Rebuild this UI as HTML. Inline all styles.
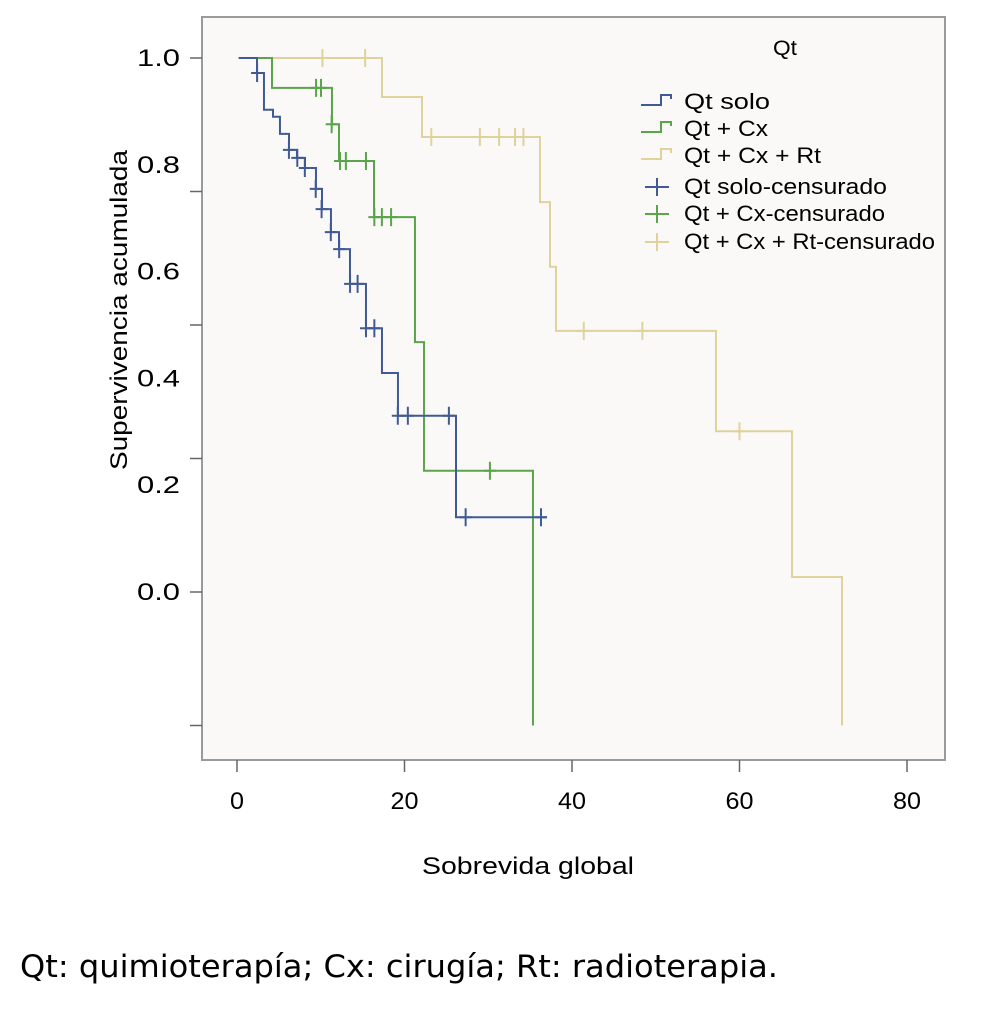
<!DOCTYPE html>
<html><head><meta charset="utf-8"><style>
body{margin:0;background:#fff;width:1000px;height:1004px;overflow:hidden}
text{font-family:"Liberation Sans",Arial,sans-serif}
</style></head><body>
<svg id="chart" width="1000" height="1004">
<rect x="202" y="17" width="743" height="743" fill="#faf9f7" stroke="#9a9a9a" stroke-width="2"/>
<g id="axes"></g>
<g id="series"></g>
<text x="785" y="55" text-anchor="middle" font-size="21" textLength="24" lengthAdjust="spacingAndGlyphs">Qt</text>
<g id="legend"></g>
<text x="422" y="874" font-size="24" textLength="212" lengthAdjust="spacingAndGlyphs">Sobrevida global</text>
<text transform="translate(127,470) rotate(-90)" font-size="24" textLength="320" lengthAdjust="spacingAndGlyphs">Supervivencia acumulada</text>
<text x="20" y="977" font-size="31" textLength="758" lengthAdjust="spacingAndGlyphs" style="font-family:'DejaVu Sans',sans-serif">Qt: quimioterapía; Cx: cirugía; Rt: radioterapia.</text>
</svg>
<script>
const xTicks=[0,20,40,60,80];
const yLabels=[1.0,0.8,0.6,0.4,0.2,0.0];
const yTicks=[1.0,0.75,0.5,0.25,0,-0.25];
const blueTimes=[2.39,3.22,4.30,5.13,6.21,7.16,8.12,9.43,10.15,11.22,12.18,13.49,15.40,17.31,19.22,26.15];
const blueLevels=[0.972,0.903,0.890,0.858,0.828,0.813,0.794,0.755,0.717,0.674,0.642,0.577,0.494,0.410,0.330,0.140];
const blueEnd=37.0;
const blueCensT=[2.4,6.2,7.2,8.1,9.4,10.1,11.2,12.2,13.5,14.4,15.4,16.4,19.2,20.4,25.3,27.3,36.3];
const blueCensS=[0.972,0.828,0.813,0.794,0.755,0.717,0.674,0.642,0.577,0.577,0.494,0.494,0.330,0.330,0.330,0.140,0.140];
const greenTimes=[4.18,11.34,12.18,16.36,21.25,22.33,35.34];
const greenLevels=[0.944,0.876,0.807,0.702,0.468,0.227,-0.25];
const greenEnd=35.34;
const greenCensT=[9.44,10.03,11.3,12.3,13.0,15.4,16.4,17.3,18.4,30.2];
const greenCensS=[0.944,0.944,0.876,0.807,0.807,0.807,0.702,0.702,0.702,0.227];
const tanTimes=[17.31,22.09,36.18,37.37,38.09,57.19,66.27,72.24];
const tanLevels=[0.927,0.852,0.730,0.609,0.489,0.301,0.028,-0.25];
const tanEnd=72.24;
const tanCensT=[10.2,15.3,23.2,29.0,31.3,33.2,34.2,41.4,48.4,60.0];
const tanCensS=[1,1,0.852,0.852,0.852,0.852,0.852,0.489,0.489,0.301];
const NS="http://www.w3.org/2000/svg";
const X=v=>237+v*8.375, Y=v=>592-v*534;
function mk(t,a,p){const e=document.createElementNS(NS,t);for(const k in a)e.setAttribute(k,a[k]);p.appendChild(e);return e;}
const ax=document.getElementById('axes');
xTicks.forEach(v=>{
 const l=mk('line',{x1:X(v),x2:X(v),y1:760,y2:772,stroke:'#666','stroke-width':1.5},ax);
 
 
 const s=String(v);
 const t=mk('text',{x:X(v),y:809,'text-anchor':'middle','font-size':24,textLength:s.length*14,lengthAdjust:'spacingAndGlyphs'},ax);t.textContent=s;
 
 
});
yTicks.forEach(v=>{
 const l=mk('line',{x1:190,x2:202,y1:Y(v),y2:Y(v),stroke:'#666','stroke-width':1.5},ax);
 
 
});
yLabels.forEach(v=>{
 const t=mk('text',{x:137,y:Y(v)+8,'font-size':24,textLength:43,lengthAdjust:'spacingAndGlyphs'},ax);t.textContent=v.toFixed(1);
 
 
});
const sg=document.getElementById('series');
function draw(name,col,times,levels,end,ct,cs,start){
 let d='M'+X(start)+','+Y(1);
 times.forEach((t,i)=>{d+=' H'+X(t)+' V'+Y(levels[i]);});
 d+=' H'+X(end);
 const p=mk('path',{d:d,fill:'none',stroke:col,'stroke-width':2},sg);
 
 
 ct.forEach((t,i)=>{
  const c=mk('path',{d:'M'+(X(t)-6)+','+Y(cs[i])+' h12 M'+X(t)+','+(Y(cs[i])-9)+' v18',stroke:col,'stroke-width':2,fill:'none'},sg);
  
  
 });
}
draw('tan','#e0d29c',tanTimes,tanLevels,tanEnd,tanCensT,tanCensS,0.2);
draw('green','#5ba44c',greenTimes,greenLevels,greenEnd,greenCensT,greenCensS,0.2);
draw('blue','#3f5a95',blueTimes,blueLevels,blueEnd,blueCensT,blueCensS,0.2);
const lg=document.getElementById('legend');
const entries=[['Qt solo','#3f5a95',0,86],['Qt + Cx','#5ba44c',0,84],['Qt + Cx + Rt','#e0d29c',0,137],['Qt solo-censurado','#3f5a95',1,203],['Qt + Cx-censurado','#5ba44c',1,201],['Qt + Cx + Rt-censurado','#e0d29c',1,251]];
const ly=[102,129,156,187,214,242];
entries.forEach((e,i)=>{
 const y=ly[i];
 const d=e[2]?'M645,'+y+' h24 M657,'+(y-9)+' v18':'M641,'+(y+3)+' h20 v-10 h10 v4';
 const p=mk('path',{d:d,stroke:e[1],'stroke-width':2,fill:'none'},lg);
 
 
 const t=mk('text',{x:684,y:y+7,'font-size':22,textLength:e[3],lengthAdjust:'spacingAndGlyphs'},lg);t.textContent=e[0];
 
 
});
</script>
</body></html>
